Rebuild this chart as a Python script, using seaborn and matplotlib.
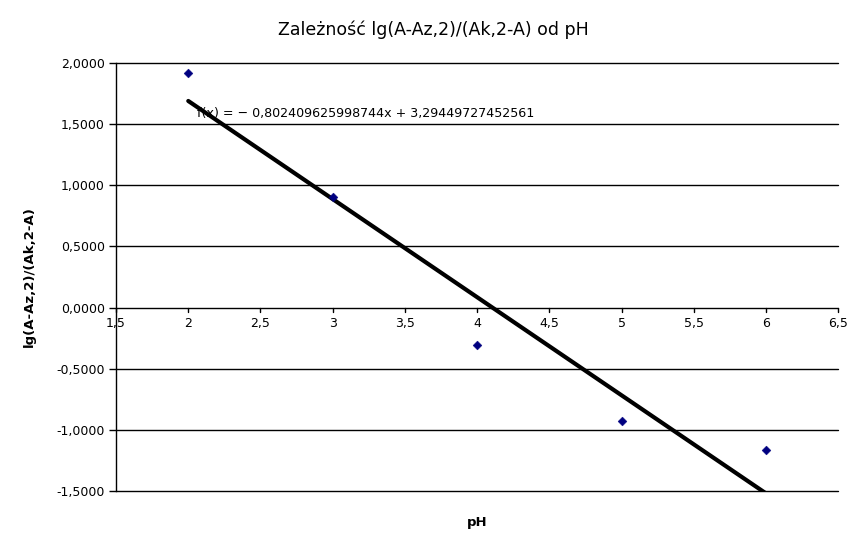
import numpy as np
import pandas as pd
import seaborn as sns
import matplotlib.pyplot as plt
from matplotlib.ticker import FuncFormatter, MultipleLocator

sns.set_theme(style='white')
plt.rcParams['font.family'] = ['DejaVu Sans']
plt.rcParams['text.color'] = 'black'
plt.rcParams['axes.labelcolor'] = 'black'
plt.rcParams['ytick.color'] = 'black'

# data
ph = [2, 3, 4, 5, 6]
lg_ratio = [1.920, 0.905, -0.310, -0.925, -1.168]

# trend line coefficients (from the label)
slope = -0.802409625998744
intercept = 3.29449727452561

df = pd.DataFrame({'pH': ph, 'lg': lg_ratio})
trend = pd.DataFrame({'pH': [ph[0], ph[-1]]})
trend['fit'] = slope * trend['pH'] + intercept

fig = plt.figure(figsize=(8.66, 5.48), dpi=100)
ax = fig.add_axes([0.134, 0.104, 0.834, 0.781])

# gridlines
for yv in np.arange(-1.5, 2.01, 0.5):
    ax.axhline(yv, color='black', lw=1, zorder=1, clip_on=False)

sns.lineplot(data=trend, x='pH', y='fit', color='black', lw=3, ax=ax, zorder=3)
sns.scatterplot(data=df, x='pH', y='lg', marker='D', s=20, color='#000080',
                edgecolor='#000080', ax=ax, zorder=4)

ax.set_xlim(1.5, 6.5)
ax.set_ylim(-1.5, 2.0)
ax.xaxis.set_major_locator(MultipleLocator(0.5))
ax.yaxis.set_major_locator(MultipleLocator(0.5))

ax.xaxis.set_major_formatter(FuncFormatter(lambda v, p: ('%g' % v).replace('.', ',')))
ax.yaxis.set_major_formatter(FuncFormatter(lambda v, p: ('%.4f' % v).replace('.', ',')))

for s in ['top', 'right', 'bottom']:
    ax.spines[s].set_visible(False)
ax.spines['left'].set_color('black')
ax.spines['left'].set_linewidth(1)

ax.tick_params(axis='y', direction='out', length=5, width=1, color='black',
               labelsize=9, pad=3, left=True)
ax.tick_params(axis='x', bottom=False, labelbottom=False)

# x axis crossing at y = 0
xt = np.arange(1.5, 6.51, 0.5)
for xv in xt:
    ax.plot([xv, xv], [0, -0.04], color='black', lw=1, clip_on=False, zorder=2)
    ax.text(xv, -0.075, ('%g' % xv).replace('.', ','), ha='center', va='top',
            fontsize=9)

ax.text(2.06, 1.586, 'f(x) = − 0,802409625998744x + 3,29449727452561',
        fontsize=9.1, va='center', ha='left', zorder=2)

ax.set_xlabel('pH', fontsize=9.5, fontweight='bold', labelpad=18)
ax.set_ylabel('lg(A-Az,2)/(Ak,2-A)', fontsize=9.5, fontweight='bold', labelpad=15)
fig.suptitle('Zależność lg(A-Az,2)/(Ak,2-A) od pH', fontsize=12.5, y=0.962)

fig.savefig('out.png', dpi=100)
